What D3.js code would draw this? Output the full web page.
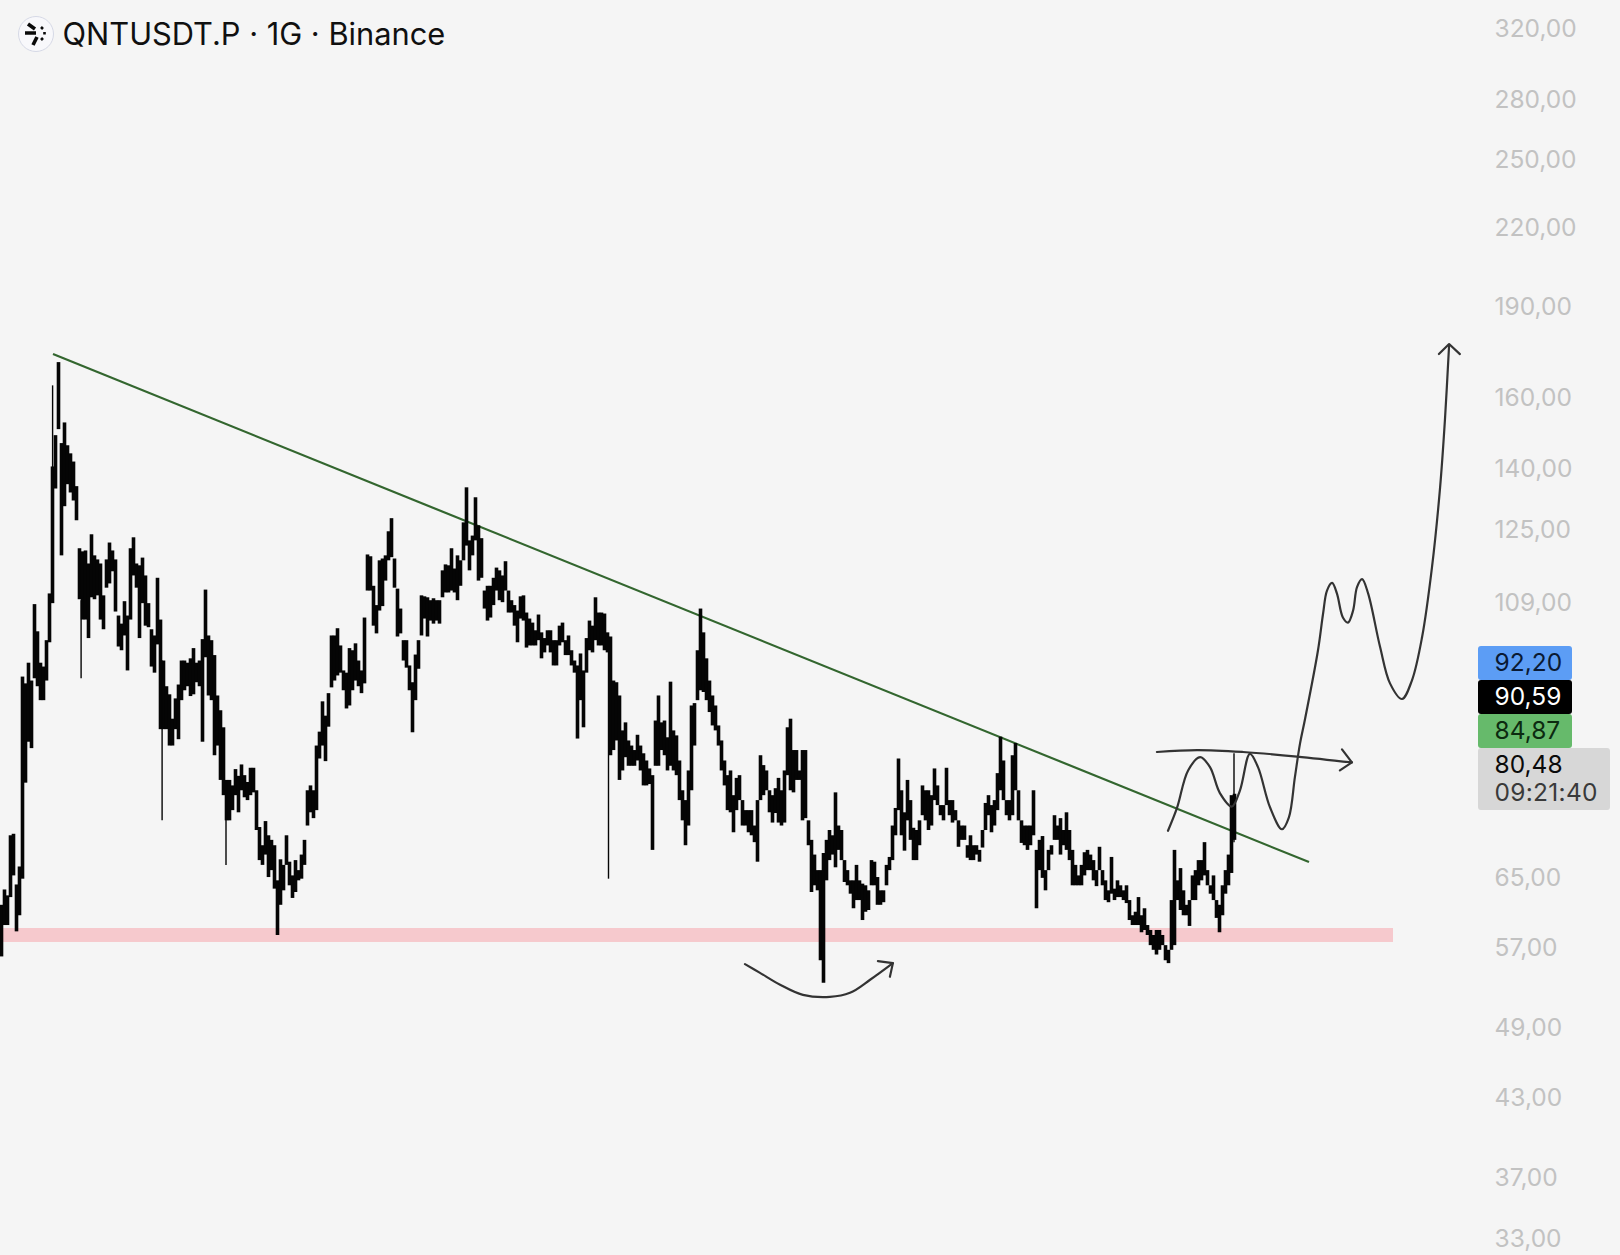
<!DOCTYPE html>
<html>
<head>
<meta charset="utf-8">
<script src="https://cdn.jsdelivr.net/npm/d3@7"></script>
<style>
    html, body { margin: 0; padding: 0; background: #f5f5f5; }
    svg { display: block; font-family: Inter, Roboto, sans-serif; }
</style>
</head>
<body>
<div id="chart"></div>
<script>
// prices, one bar every 3 px, rows of ten
var barHigh = [
    61.7,63.5,62.8,70.3,70.5,64.1,66.3,94.7,93.5,97.2,
    94.0,108.5,103.1,97.2,96.5,101.4,110.7,140.5,149.0,170.9,
    146.8,152.6,146.2,144.0,141.8,135.4,120.5,119.8,120.0,117.1,
    123.7,118.9,118.0,117.1,110.3,118.0,121.8,120.0,118.0,106.2,
    104.6,109.1,106.2,120.5,123.0,117.1,116.7,118.4,114.5,108.7,
    103.5,102.3,114.0,105.4,97.6,93.0,91.6,87.5,90.9,93.3,
    97.6,97.6,97.2,98.0,99.9,97.2,97.6,101.6,111.5,102.3,
    101.4,98.6,91.4,88.9,86.1,78.0,78.0,77.2,79.6,78.6,
    80.3,78.7,77.7,79.8,79.8,76.5,71.4,69.0,72.2,70.3,
    69.7,69.0,64.6,67.2,66.5,70.3,66.9,65.2,67.1,65.85,
    67.8,69.7,76.5,77.2,76.5,83.2,85.4,90.4,88.0,91.8,
    102.3,102.3,103.7,100.4,95.8,95.4,99.9,99.5,100.8,97.6,
    95.8,105.8,119.1,118.7,112.3,108.3,117.8,118.2,118.9,124.4,
    127.5,118.2,111.7,107.6,101.4,101.4,96.7,93.7,98.7,101.4,
    110.3,110.1,109.9,109.3,109.7,109.3,109.3,115.6,116.9,116.7,
    120.5,116.0,118.9,117.8,126.5,135.1,122.3,123.4,132.6,125.8,
    122.8,111.3,112.3,112.3,114.0,116.2,115.6,114.5,117.6,111.3,
    109.3,108.3,107.2,110.1,110.3,106.8,105.6,104.8,103.3,106.4,
    102.9,101.8,103.3,103.3,101.4,101.4,104.2,104.8,101.4,102.3,
    99.5,97.6,96.7,98.9,95.8,101.8,105.2,104.2,109.9,106.8,
    106.8,106.6,102.9,102.1,94.0,93.7,91.4,85.6,86.9,84.0,
    83.2,82.5,84.9,83.2,82.0,80.9,79.7,78.7,87.2,91.4,
    86.9,87.2,84.5,93.8,85.6,84.8,80.9,76.5,75.1,79.4,
    89.7,90.1,99.5,107.6,102.9,98.0,94.0,91.4,89.7,86.4,
    84.0,80.9,78.7,79.4,75.8,78.3,78.7,75.1,73.7,73.7,
    73.7,71.6,75.1,81.7,80.2,79.4,76.5,75.8,76.8,78.3,
    76.5,79.4,86.1,87.5,82.5,82.5,79.4,82.5,82.5,72.3,
    69.7,67.8,65.85,65.85,68.0,69.7,71.0,70.3,76.2,71.6,
    71.0,67.1,65.85,64.6,64.6,66.5,64.6,64.2,64.0,63.4,
    67.1,66.9,65.0,63.4,63.4,66.5,67.5,71.6,74.0,81.2,
    76.5,73.4,78.0,75.1,71.3,71.0,72.3,77.2,76.5,76.5,
    75.8,79.7,77.2,74.4,74.4,79.8,75.1,75.1,73.7,72.3,
    71.6,71.6,69.0,70.3,69.0,69.0,68.4,71.0,74.7,75.8,
    74.4,75.1,79.0,84.6,80.9,75.1,75.1,81.7,83.6,76.5,
    72.3,71.6,71.6,71.6,76.5,68.4,69.7,70.2,65.85,68.4,
    69.0,73.0,71.6,72.6,71.0,73.4,71.0,68.4,66.5,65.2,
    66.5,68.1,68.4,67.8,67.1,65.85,68.8,65.85,64.6,63.4,
    67.5,63.6,64.6,64.0,63.4,64.0,62.25,60.5,60.9,62.6,
    60.5,61.3,59.4,58.85,58.3,58.85,58.85,58.3,57.2,56.7,
    62.25,68.4,64.6,66.1,63.4,61.7,62.25,65.2,65.85,67.1,
    67.1,69.4,65.85,64.0,65.2,62.25,61.7,64.0,65.85,67.8,
    75.8,76.0
];
var barLow = [
    56.0,59.4,59.4,62.6,65.2,58.7,60.5,64.8,77.6,83.8,
    82.8,94.4,93.0,90.6,90.6,94.0,101.0,108.7,134.8,150.7,
    118.9,130.4,135.9,133.8,131.8,127.0,109.5,105.4,105.4,101.8,
    109.9,109.5,110.3,105.4,103.5,111.9,112.8,115.4,107.0,100.2,
    99.5,102.3,95.8,105.4,114.5,111.9,101.8,108.7,104.2,103.9,
    96.5,95.4,100.6,85.8,85.8,85.8,83.2,83.2,85.8,84.2,
    90.6,92.3,93.0,91.3,91.6,93.7,93.0,83.8,98.2,91.4,
    90.6,81.7,83.2,78.0,75.8,72.3,72.3,73.7,75.8,73.4,
    76.5,75.5,75.1,75.8,76.2,71.0,67.1,66.5,67.8,65.0,
    65.85,63.6,58.3,61.7,63.4,66.5,64.0,62.5,63.2,64.6,
    64.8,66.5,71.6,73.4,72.6,73.7,81.2,83.2,80.8,86.2,
    92.8,94.0,94.9,95.4,92.3,89.2,89.7,92.3,94.0,93.0,
    91.8,93.5,111.3,111.3,104.2,102.7,107.2,108.1,113.4,117.8,
    118.5,111.9,102.1,102.7,97.6,96.3,92.3,85.3,90.6,96.1,
    102.3,105.6,102.1,105.2,104.6,105.2,104.6,109.9,110.9,110.9,
    111.3,110.9,109.3,112.3,117.8,121.1,115.6,118.9,122.3,113.4,
    114.0,107.6,105.2,105.8,108.3,111.3,109.3,108.9,111.3,106.8,
    106.8,104.2,101.0,105.6,105.2,100.0,100.4,100.4,100.4,101.4,
    98.0,99.1,100.4,99.1,96.7,96.7,100.4,101.0,98.6,98.6,
    96.7,95.4,84.3,90.6,86.1,95.4,99.5,99.1,101.4,100.4,
    100.4,99.5,99.1,81.7,82.5,84.0,78.0,79.4,81.4,80.1,
    80.1,80.1,80.9,79.4,77.2,77.2,77.4,68.4,80.1,80.1,
    82.5,81.7,79.4,80.1,79.4,78.7,75.1,72.3,69.0,71.6,
    76.5,83.2,90.6,92.3,92.0,90.6,88.6,86.4,85.6,83.2,
    79.4,77.2,73.7,73.4,70.7,73.7,75.1,71.6,71.6,70.7,
    70.3,69.4,66.9,75.1,75.8,76.5,73.4,72.0,73.3,72.0,
    71.6,72.0,78.7,76.5,76.2,78.0,78.0,72.3,72.6,69.0,
    63.2,64.0,63.4,55.6,53.3,64.6,67.1,67.8,66.2,68.4,
    67.1,64.4,64.0,63.0,61.3,62.25,62.25,59.96,60.9,61.1,
    64.0,64.0,61.7,61.7,62.0,64.0,65.85,67.1,70.3,73.7,
    70.3,68.3,72.3,69.7,67.1,67.1,69.0,73.0,72.3,71.0,
    71.6,75.1,74.4,73.0,72.3,74.4,73.0,72.0,72.3,68.8,
    69.7,69.7,67.4,67.1,67.1,67.8,66.9,68.7,71.0,73.0,
    70.7,71.6,73.7,76.5,75.1,73.0,72.3,73.0,76.5,72.3,
    69.3,69.0,68.4,69.0,70.3,61.3,65.85,64.9,63.4,65.85,
    67.8,69.7,69.7,67.8,69.0,68.4,67.1,64.0,64.0,64.0,
    64.0,65.2,65.85,65.85,64.6,63.9,65.85,64.0,62.25,62.0,
    63.0,62.25,62.6,62.6,62.25,61.9,59.96,59.4,59.4,59.4,
    58.6,58.85,58.3,57.2,56.7,56.2,56.7,57.2,55.6,55.3,
    56.7,57.2,62.25,61.1,60.5,60.5,59.3,62.25,62.25,64.0,
    64.6,65.2,64.0,63.0,62.25,60.2,58.6,60.5,63.0,64.0,
    65.5,69.7
];

// long thin shadows, bar position / top / bottom
var wickBar = [17.2, 26.7, 53.7, 75, 202.5, 411];
var wickHigh = [163.6, 109.3, 97.6, 78.0, 102.1, 82.0];
var wickLow = [136.9, 94.4, 72.3, 66.5, 64.8, 69.4];

var priceTicks = [320, 280, 250, 220, 190, 160, 140, 125, 109, 65, 57, 49, 43, 37, 33];

var zoneTop = 59.07, zoneBottom = 57.54, zoneEndBar = 464;

var trendBars = [17.33, 436], trendPrices = [173.5, 66.85];

var swoopBars = [248, 253, 259.7, 267.3, 276.3, 283, 289.7, 297.3];
var swoopPrices = [55.2, 54.3, 53.1, 52.1, 51.9, 52.3, 53.6, 55.3];
var swoopHeadBars = [292.3, 297.3, 296.3];
var swoopHeadPrices = [55.5, 55.3, 53.9];

var sidewaysBars = [385.3, 398.7, 414, 432, 450.3];
var sidewaysPrices = [82.2, 82.5, 82.2, 81.5, 80.6];
var sidewaysHeadBars = [447, 450.3, 446.3];
var sidewaysHeadPrices = [82.6, 80.6, 79.4];

var waveBars = [389, 392, 395.7, 399.7, 403, 406.3, 410.3, 413, 416.3, 419, 423, 427, 429.3, 431.3, 433, 434.7,
    439, 440.7, 442, 443.7, 445.3, 447.3, 449, 450.7, 452, 453.7, 455.7, 459.7, 463, 467, 470.3, 473.7, 477, 479.7, 481.3, 482.7];
var wavePrices = [70.9, 74.0, 79.4, 81.4, 79.9, 76.1, 74.2, 76.5, 81.9, 79.9, 74.1, 71.1, 72.7, 78.4, 83.5, 87.5,
    99.5, 106.6, 111.3, 112.9, 110.7, 105.8, 104.8, 107.2, 112.0, 113.7, 110.7, 100.1, 93.5, 90.8, 94.0, 102.0, 116.3, 135.1, 153.2, 176.4];
var waveHeadBars = [479.3, 482.7, 486.3];
var waveHeadPrices = [173.5, 176.8, 173.5];

var priceTags = ['92,20', '90,59', '84,87'];
var tagColors = ['#5c9df5', '#000000', '#66ba6b'];
var tagTextColors = ['#0a1a33', '#ffffff', '#0c2a10'];
var clockTag = ['80,48', '09:21:40'];

var title = 'QNTUSDT.P · 1G · Binance';

var WIDTH = 1620, HEIGHT = 1255;

var svg = d3.select('#chart').append('svg')
    .attr('width', WIDTH)
    .attr('height', HEIGHT);

svg.append('rect')
    .attr('width', WIDTH)
    .attr('height', HEIGHT)
    .attr('fill', '#f5f5f5');

var x = d3.scaleLinear().domain([0, 411]).range([1, 1234]);
var y = d3.scaleLog().domain([57, 320]).range([947, 28]);

// support zone
svg.append('rect')
    .attr('x', x(-1))
    .attr('y', y(zoneTop))
    .attr('width', x(zoneEndBar) - x(-1))
    .attr('height', y(zoneBottom) - y(zoneTop))
    .attr('fill', '#f6c9cd');

// down trendline
svg.append('line')
    .attr('x1', x(trendBars[0]))
    .attr('y1', y(trendPrices[0]))
    .attr('x2', x(trendBars[1]))
    .attr('y2', y(trendPrices[1]))
    .attr('stroke', '#33662f')
    .attr('stroke-width', 2.2);

// bars, a little wider than the step so neighbours close up
svg.append('g').selectAll('rect')
    .data(barHigh)
    .join('rect')
    .attr('x', function (d, i) { return Math.round(x(i)) - 1.3; })
    .attr('y', function (d) { return y(d); })
    .attr('width', 3.6)
    .attr('height', function (d, i) { return y(barLow[i]) - y(d); })
    .attr('fill', '#050505');

svg.append('g').selectAll('line')
    .data(wickBar)
    .join('line')
    .attr('x1', function (d) { return x(d); })
    .attr('x2', function (d) { return x(d); })
    .attr('y1', function (d, i) { return y(wickHigh[i]); })
    .attr('y2', function (d, i) { return y(wickLow[i]); })
    .attr('stroke', '#050505')
    .attr('stroke-width', 1.4);

// hand drawn sketches
function sketch(bars, prices, curve) {
    var line = d3.line()
        .x(function (d) { return x(d); })
        .y(function (d, i) { return y(prices[i]); })
        .curve(curve);
    svg.append('path')
        .attr('d', line(bars))
        .attr('fill', 'none')
        .attr('stroke', '#333333')
        .attr('stroke-width', 2.2)
        .attr('stroke-linecap', 'round')
        .attr('stroke-linejoin', 'round');
}

sketch(swoopBars, swoopPrices, d3.curveCatmullRom);
sketch(swoopHeadBars, swoopHeadPrices, d3.curveLinear);
sketch(sidewaysBars, sidewaysPrices, d3.curveCatmullRom);
sketch(sidewaysHeadBars, sidewaysHeadPrices, d3.curveLinear);
sketch(waveBars, wavePrices, d3.curveCatmullRom);
sketch(waveHeadBars, waveHeadPrices, d3.curveLinear);

// price axis
var fmt = d3.formatLocale({ decimal: ',', thousands: '.', grouping: [3], currency: ['', ''] }).format('.2f');
var axis = d3.axisRight(y).tickValues(priceTicks).tickFormat(fmt).tickSize(0).tickPadding(0);
var axisG = svg.append('g')
    .attr('transform', 'translate(1494.5,0.5)')
    .call(axis);
axisG.select('.domain').remove();
axisG.selectAll('text')
    .attr('font-size', 24.5)
    .attr('font-family', 'Inter, Roboto, sans-serif')
    .attr('fill', '#c2c2c2');

// stacked price tags
var TAG_X = 1478, TAG_W = 94, TAG_H = 34, TAG_Y = 646;
priceTags.forEach(function (t, i) {
    svg.append('rect')
        .attr('x', TAG_X)
        .attr('y', TAG_Y + i * TAG_H)
        .attr('width', TAG_W)
        .attr('height', TAG_H)
        .attr('rx', 3)
        .attr('fill', tagColors[i]);
    svg.append('text')
        .attr('x', 1494.5)
        .attr('y', TAG_Y + i * TAG_H + 25)
        .attr('font-size', 24.5)
        .attr('fill', tagTextColors[i])
        .text(t);
});

svg.append('rect')
    .attr('x', TAG_X)
    .attr('y', TAG_Y + 3 * TAG_H)
    .attr('width', 132)
    .attr('height', 62)
    .attr('rx', 3)
    .attr('fill', '#d7d7d7');
svg.append('text')
    .attr('x', 1494.5)
    .attr('y', 773)
    .attr('font-size', 24.5)
    .attr('fill', '#0a0a0a')
    .text(clockTag[0]);
svg.append('text')
    .attr('x', 1494.5)
    .attr('y', 801)
    .attr('font-size', 24.5)
    .attr('letter-spacing', 0.3)
    .attr('fill', '#3a3a3a')
    .text(clockTag[1]);

// header
var icon = svg.append('g').attr('transform', 'translate(36,34)');
icon.append('circle')
    .attr('r', 17.5)
    .attr('fill', '#f8f8fb')
    .attr('stroke', '#d6d9e6')
    .attr('stroke-width', 1);
icon.append('path')
    .attr('d', 'M-11,-1H0M-8,-10L-1,-5M-3,11L1,3')
    .attr('fill', 'none')
    .attr('stroke', '#0a0a0a')
    .attr('stroke-width', 3.6);
icon.append('path')
    .attr('d', 'M5,-7L7,-5M8.5,-2V0.5M7,4L5,6')
    .attr('fill', 'none')
    .attr('stroke', '#0a0a0a')
    .attr('stroke-width', 2.6);

svg.append('text')
    .attr('x', 62.5)
    .attr('y', 45)
    .attr('font-size', 30.8)
    .attr('fill', '#101010')
    .text(title);
</script>
</body>
</html>
